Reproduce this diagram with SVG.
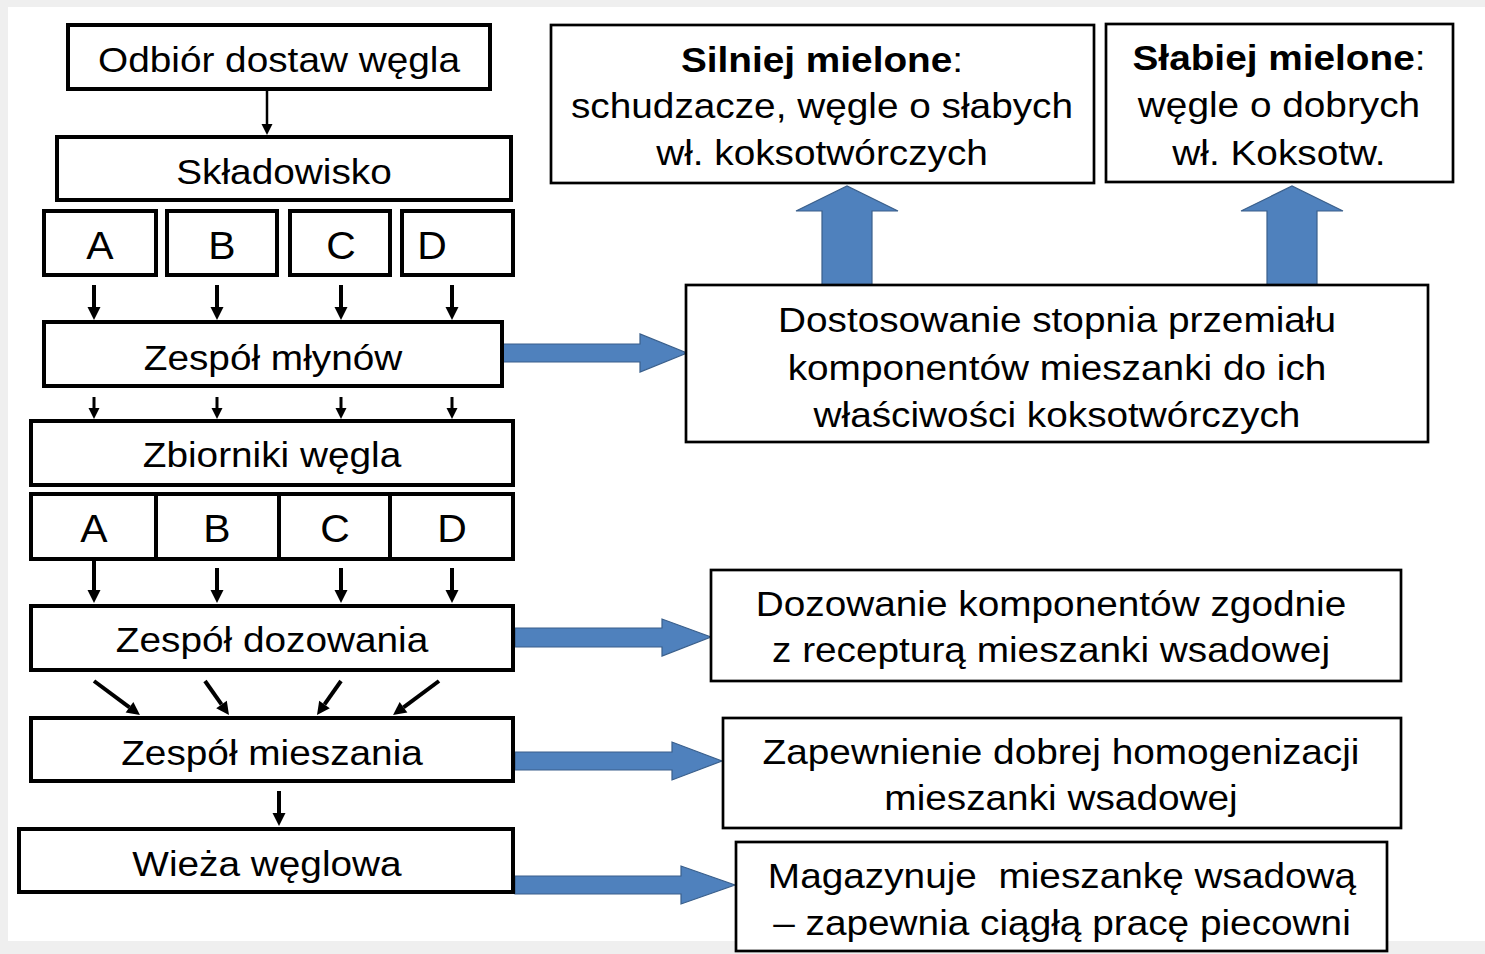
<svg xmlns="http://www.w3.org/2000/svg" width="1485" height="954" viewBox="0 0 1485 954">
<style>
.lbox{fill:#fff;stroke:#000;stroke-width:4}
.rbox{fill:#fff;stroke:#000;stroke-width:2.7}
.t{font-family:"Liberation Sans",Arial,sans-serif;font-size:36px;fill:#000;text-anchor:middle}
.L{font-size:38px}
.b{font-weight:bold}
.ar{stroke:#000;fill:none}
.blue{fill:#4F81BD;stroke:#3A5F8B;stroke-width:1.2}
</style>
<defs>
<marker id="h" markerUnits="userSpaceOnUse" markerWidth="16" markerHeight="16" viewBox="0 -8 16 16" refX="0" refY="0" orient="auto" overflow="visible">
<path d="M0,-6.5 L13,0 L0,6.5 z" fill="#000"/>
</marker>
<marker id="hs" markerUnits="userSpaceOnUse" markerWidth="14" markerHeight="14" viewBox="0 -7 14 14" refX="0" refY="0" orient="auto" overflow="visible">
<path d="M0,-5.5 L11,0 L0,5.5 z" fill="#000"/>
</marker>
</defs>
<rect x="0" y="0" width="1485" height="954" fill="#efefef"/>
<rect x="8" y="7" width="1477" height="934" fill="#fff"/>

<g id="connectors">
<line class="ar" x1="267" y1="89" x2="267" y2="124" stroke-width="2.5" marker-end="url(#hs)"/>
<line class="ar" x1="94" y1="285" x2="94" y2="307" stroke-width="4" marker-end="url(#h)"/>
<line class="ar" x1="217" y1="285" x2="217" y2="307" stroke-width="4" marker-end="url(#h)"/>
<line class="ar" x1="341" y1="285" x2="341" y2="307" stroke-width="4" marker-end="url(#h)"/>
<line class="ar" x1="452" y1="285" x2="452" y2="307" stroke-width="4" marker-end="url(#h)"/>
<line class="ar" x1="94" y1="397" x2="94" y2="408" stroke-width="3" marker-end="url(#hs)"/>
<line class="ar" x1="217" y1="397" x2="217" y2="408" stroke-width="3" marker-end="url(#hs)"/>
<line class="ar" x1="341" y1="397" x2="341" y2="408" stroke-width="3" marker-end="url(#hs)"/>
<line class="ar" x1="452" y1="397" x2="452" y2="408" stroke-width="3" marker-end="url(#hs)"/>
<line class="ar" x1="94" y1="559" x2="94" y2="590" stroke-width="4" marker-end="url(#h)"/>
<line class="ar" x1="217" y1="568" x2="217" y2="590" stroke-width="4" marker-end="url(#h)"/>
<line class="ar" x1="341" y1="568" x2="341" y2="590" stroke-width="4" marker-end="url(#h)"/>
<line class="ar" x1="452" y1="568" x2="452" y2="590" stroke-width="4" marker-end="url(#h)"/>
<line class="ar" x1="94" y1="681" x2="129.5" y2="707.3" stroke-width="4" marker-end="url(#h)"/>
<line class="ar" x1="205" y1="681" x2="221.5" y2="704.4" stroke-width="4" marker-end="url(#h)"/>
<line class="ar" x1="341" y1="681" x2="324.5" y2="704.4" stroke-width="4" marker-end="url(#h)"/>
<line class="ar" x1="439" y1="681" x2="403.5" y2="707.3" stroke-width="4" marker-end="url(#h)"/>
<line class="ar" x1="279" y1="791" x2="279" y2="813" stroke-width="4" marker-end="url(#h)"/>
<polygon class="blue" points="502,344 640,344 640,334 687,353 640,372 640,362 502,362"/>
<polygon class="blue" points="515,628 662,628 662,619 711,637 662,656 662,647 515,647"/>
<polygon class="blue" points="515,752 672,752 672,742 722,761 672,780 672,770 515,770"/>
<polygon class="blue" points="515,876 681,876 681,866 735,885 681,904 681,894 515,894"/>
<polygon class="blue" points="822,285 822,211 796,211 847,186 898,211 872,211 872,285"/>
<polygon class="blue" points="1267,285 1267,211 1241,211 1292,186 1343,211 1317,211 1317,285"/>
</g>

<g id="odbior"><rect class="lbox" x="68" y="25" width="422" height="64"/>
<text class="t" transform="matrix(1.077 0 0 1 279 72)">Odbiór dostaw węgla</text></g>
<g id="skladowisko"><rect class="lbox" x="57" y="137" width="454" height="63"/>
<text class="t" transform="matrix(1.077 0 0 1 284 184)">Składowisko</text></g>
<g id="skl-A"><rect class="lbox" x="44" y="211" width="112" height="64"/><text class="t L" transform="matrix(1.077 0 0 1 100 259)">A</text></g>
<g id="skl-B"><rect class="lbox" x="167" y="211" width="110" height="64"/><text class="t L" transform="matrix(1.077 0 0 1 222 259)">B</text></g>
<g id="skl-C"><rect class="lbox" x="290" y="211" width="100" height="64"/><text class="t L" transform="matrix(1.077 0 0 1 341 259)">C</text></g>
<g id="skl-D"><rect class="lbox" x="402" y="211" width="111" height="64"/><text class="t L" transform="matrix(1.077 0 0 1 432 259)">D</text></g>
<g id="mlyny"><rect class="lbox" x="44" y="322" width="458" height="64"/>
<text class="t" transform="matrix(1.077 0 0 1 273 370)">Zespół młynów</text></g>
<g id="zbiorniki"><rect class="lbox" x="31" y="421" width="482" height="64"/>
<text class="t" transform="matrix(1.077 0 0 1 272 467)">Zbiorniki węgla</text></g>
<g id="zb-A"><rect class="lbox" x="31" y="494" width="125" height="65"/><text class="t L" transform="matrix(1.077 0 0 1 94 542)">A</text></g>
<g id="zb-B"><rect class="lbox" x="156" y="494" width="123" height="65"/><text class="t L" transform="matrix(1.077 0 0 1 217 542)">B</text></g>
<g id="zb-C"><rect class="lbox" x="279" y="494" width="111" height="65"/><text class="t L" transform="matrix(1.077 0 0 1 335 542)">C</text></g>
<g id="zb-D"><rect class="lbox" x="390" y="494" width="123" height="65"/><text class="t L" transform="matrix(1.077 0 0 1 452 542)">D</text></g>
<g id="dozowanie"><rect class="lbox" x="31" y="606" width="482" height="64"/>
<text class="t" transform="matrix(1.077 0 0 1 272 652)">Zespół dozowania</text></g>
<g id="mieszanie"><rect class="lbox" x="31" y="718" width="482" height="63"/>
<text class="t" transform="matrix(1.077 0 0 1 272 765)">Zespół mieszania</text></g>
<g id="wieza"><rect class="lbox" x="19" y="829" width="494" height="63"/>
<text class="t" transform="matrix(1.077 0 0 1 267 876)">Wieża węglowa</text></g>

<g id="silniej"><rect class="rbox" x="551" y="25" width="543" height="158"/>
<text class="t" transform="matrix(1.077 0 0 1 822 72)"><tspan class="b">Silniej mielone</tspan>:</text>
<text class="t" transform="matrix(1.077 0 0 1 822 118)">schudzacze, węgle o słabych</text>
<text class="t" transform="matrix(1.077 0 0 1 822 165)">wł. koksotwórczych</text></g>
<g id="slabiej"><rect class="rbox" x="1106" y="24" width="347" height="158"/>
<text class="t" transform="matrix(1.077 0 0 1 1279 70)"><tspan class="b">Słabiej mielone</tspan>:</text>
<text class="t" transform="matrix(1.077 0 0 1 1279 117)">węgle o dobrych</text>
<text class="t" transform="matrix(1.077 0 0 1 1279 165)">wł. Koksotw.</text></g>
<g id="dostosowanie"><rect class="rbox" x="686" y="285" width="742" height="157"/>
<text class="t" transform="matrix(1.077 0 0 1 1057 332)">Dostosowanie stopnia przemiału</text>
<text class="t" transform="matrix(1.077 0 0 1 1057 380)">komponentów mieszanki do ich</text>
<text class="t" transform="matrix(1.077 0 0 1 1057 427)">właściwości koksotwórczych</text></g>
<g id="dozowanie-opis"><rect class="rbox" x="711" y="570" width="690" height="111"/>
<text class="t" transform="matrix(1.077 0 0 1 1051 616)">Dozowanie komponentów zgodnie</text>
<text class="t" transform="matrix(1.077 0 0 1 1051 662)">z recepturą mieszanki wsadowej</text></g>
<g id="homogenizacja"><rect class="rbox" x="723" y="718" width="678" height="110"/>
<text class="t" transform="matrix(1.077 0 0 1 1061 764)">Zapewnienie dobrej homogenizacji</text>
<text class="t" transform="matrix(1.077 0 0 1 1061 810)">mieszanki wsadowej</text></g>
<g id="magazynuje"><rect class="rbox" x="736" y="842" width="651" height="109"/>
<text class="t" transform="matrix(1.077 0 0 1 1062 888)">Magazynuje&#160; mieszankę wsadową</text>
<text class="t" transform="matrix(1.077 0 0 1 1062 935)">– zapewnia ciągłą pracę piecowni</text></g>
</svg>
